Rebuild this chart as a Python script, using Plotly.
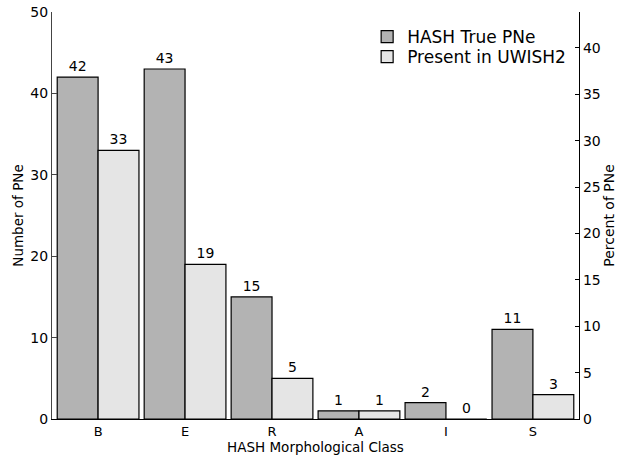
import plotly.graph_objects as go

categories = ["B", "E", "R", "A", "I", "S"]
hash_true = [42, 43, 15, 1, 2, 11]
uwish2 = [33, 19, 5, 1, 0, 3]
series_names = ["HASH True PNe", "Present in UWISH2"]

total = sum(hash_true)
pct = [v / total * 100 for v in hash_true]

FONT = "DejaVu Sans"

fig = go.Figure()
fig.add_trace(go.Bar(
    x=categories, y=hash_true, name=series_names[0], legend="legend",
    marker=dict(color="#b3b3b3", line=dict(color="black", width=1.2)),
    text=[str(v) for v in hash_true], textposition="outside", constraintext="none",
    textfont=dict(size=14, color="black", family=FONT), cliponaxis=False,
))
fig.add_trace(go.Bar(
    x=categories, y=uwish2, name=series_names[1], legend="legend2",
    marker=dict(color="#e5e5e5", line=dict(color="black", width=1.2)),
    text=[str(v) for v in uwish2], textposition="outside", constraintext="none",
    textfont=dict(size=14, color="black", family=FONT), cliponaxis=False,
))
fig.add_trace(go.Scatter(
    x=categories, y=pct, yaxis="y2", mode="markers",
    marker=dict(opacity=0), showlegend=False, hoverinfo="skip",
))

leg_common = dict(xanchor="left", yanchor="middle", font=dict(size=17, family=FONT),
                  bgcolor="rgba(0,0,0,0)", itemwidth=30)

fig.update_layout(
    width=639, height=457,
    margin=dict(l=52, r=60, t=12, b=38, autoexpand=False),
    paper_bgcolor="white", plot_bgcolor="white",
    font=dict(family=FONT, size=13, color="black"),
    barmode="group", bargap=0.06, bargroupgap=0,
    showlegend=True,
    legend=dict(x=0.598, y=0.9386, **leg_common),
    legend2=dict(x=0.598, y=0.8894, **leg_common),
    xaxis=dict(
        range=[-0.53, 5.53], showline=True, linecolor="black", linewidth=1.3,
        ticks="", showgrid=False, zeroline=False, automargin=False,
        title=dict(text="HASH Morphological Class", font=dict(size=13.5), standoff=3),
        tickfont=dict(size=13),
    ),
    yaxis=dict(
        range=[0, 50], dtick=10, showline=True, linecolor="#444", linewidth=1.3,
        ticks="inside", ticklen=5, tickcolor="#444", showgrid=False, zeroline=False,
        automargin=False, ticklabeloverflow="allow",
        title=dict(text="Number of PNe", font=dict(size=13.5), standoff=3),
        tickfont=dict(size=14),
    ),
    yaxis2=dict(
        range=[0, 50 / total * 100], dtick=5, overlaying="y", side="right",
        showline=True, linecolor="black", linewidth=1.3, automargin=False,
        ticklabeloverflow="allow",
        ticks="inside", ticklen=4, tickcolor="black", showgrid=False, zeroline=False,
        title=dict(text="Percent of PNe", font=dict(size=14), standoff=2),
        tickfont=dict(size=14),
    ),
)

fig.write_html("out.html", config={"displayModeBar": False},
               post_script="document.body.style.margin='0';")
